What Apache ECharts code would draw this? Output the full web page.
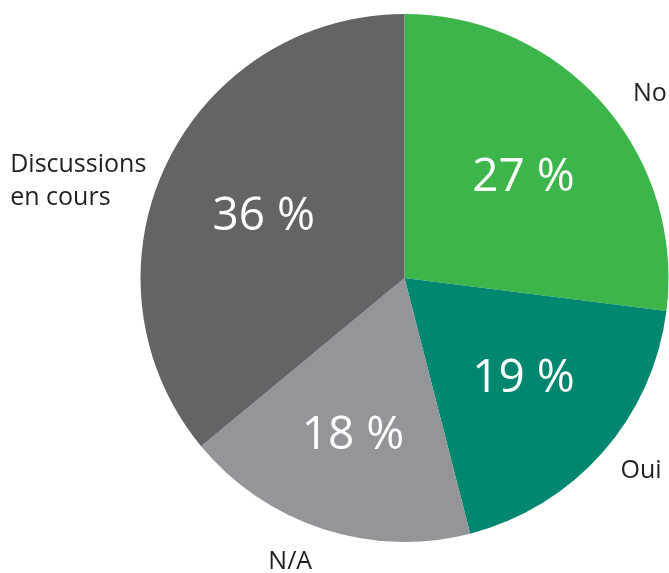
<!DOCTYPE html>
<html>
<head>
<meta charset="utf-8">
<script src="https://cdn.jsdelivr.net/npm/echarts@6/dist/echarts.min.js"></script>
<style>
  html, body { margin: 0; padding: 0; background: #fff; }
  #chart { width: 669px; height: 573px; }
</style>
</head>
<body>
<div id="chart"></div>
<script>
'use strict';

const categories = ['Non', 'Oui', 'N/A', 'Discussions\nen cours']
const values = [27, 19, 18, 36]
const colors = ['#3cb54a', '#00876f', '#939598', '#636466']
// longueur des traits (invisibles) qui placent chaque étiquette extérieure
const lineLen = [14, 28, 35, -36]
const lineLen2 = [20, -3, 0, 54]
// petit décalage des pourcentages
const innerShift = [[-1, 6], [-1, -5], [-2, 6], [4, 7]]

const container = document.getElementById('chart');
const myChart = echarts.init(container);

const center = [404.5, 278]
const fontFamily = '"Open Sans", "Noto Sans", sans-serif'

const outerData = categories.map((name, i) => {
    return {
        name: name,
        value: values[i],
        itemStyle: { color: colors[i] },
        labelLine: { show: false, length: lineLen[i], length2: lineLen2[i] }
    }
})

const innerData = categories.map((name, i) => {
    return {
        name: name,
        value: values[i]
    }
})

const textStyle = {
    color: '#231f20',
    fontFamily: fontFamily,
    fontSize: 25,
    lineHeight: 33
}

const option = {
    animation: false,
    series: [{
        type: 'pie',
        center: center,
        radius: 264,
        startAngle: 90,
        clockwise: true,
        avoidLabelOverlap: false,
        itemStyle: { borderWidth: 0 },
        label: Object.assign({
            show: true,
            position: 'outside',
            distanceToLabelLine: 0,
            // texte sur deux lignes aligné à gauche, comme dans l'original
            formatter: (params) => {
                if (params.name.indexOf('\n') < 0) return params.name
                return params.name.split('\n').map(s => '{w|' + s + '}').join('\n')
            },
            rich: {
                w: Object.assign({ width: 134, align: 'left' }, textStyle)
            }
        }, textStyle),
        labelLine: { show: false },
        emphasis: { disabled: true },
        data: outerData
    }, {
        // étiquettes des pourcentages, posées sur un anneau transparent
        type: 'pie',
        center: center,
        radius: [50, 264],
        startAngle: 90,
        clockwise: true,
        silent: true,
        avoidLabelOverlap: false,
        itemStyle: { color: 'rgba(0,0,0,0)', borderWidth: 0 },
        label: {
            show: true,
            position: 'inside',
            color: '#fff',
            fontFamily: fontFamily,
            fontSize: 46,
            formatter: '{c} %'
        },
        labelLayout: (params) => {
            const s = innerShift[params.dataIndex]
            return { dx: s[0], dy: s[1] }
        },
        labelLine: { show: false },
        emphasis: { disabled: true },
        data: innerData
    }]
};

myChart.setOption(option);
</script>
</body>
</html>
